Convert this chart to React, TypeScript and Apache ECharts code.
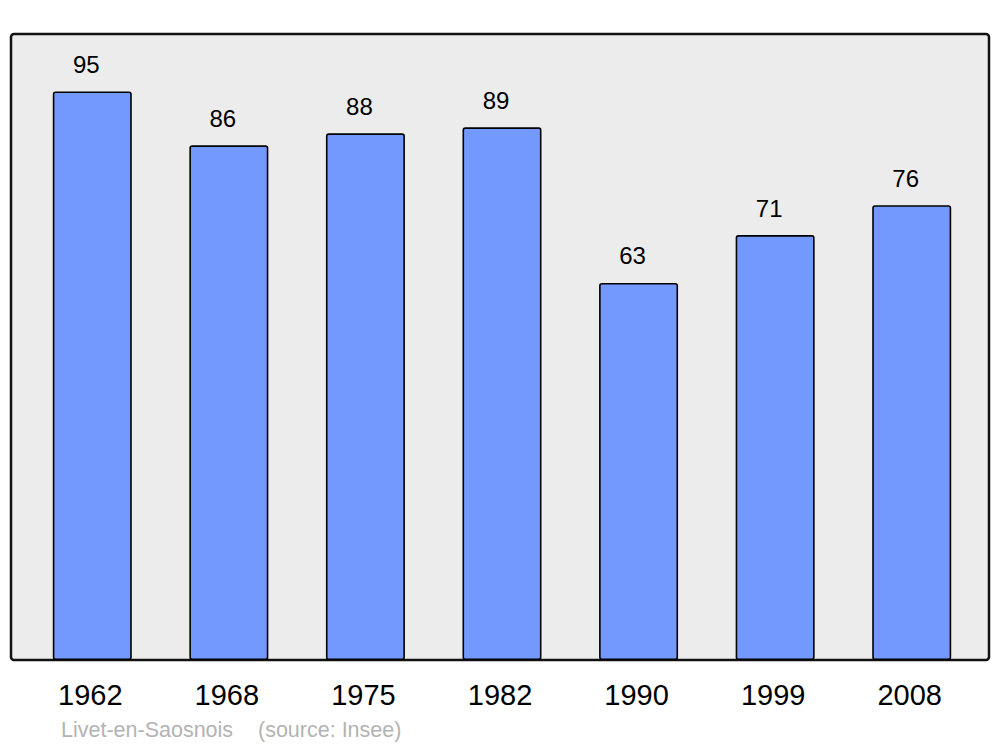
import React, { useEffect, useRef } from "react";
import * as echarts from "echarts";

const years = ["1962", "1968", "1975", "1982", "1990", "1999", "2008"];
const population = [95, 86, 88, 89, 63, 71, 76];
const footerPlace = "Livet-en-Saosnois";
const footerSource = "(source: Insee)";

export default function App() {
  const ref = useRef<HTMLDivElement>(null);
  useEffect(() => {
    if (!ref.current) return;
    const chart = echarts.init(ref.current, undefined, { renderer: "svg" });
    chart.setOption({
      animation: false,
      backgroundColor: "#ffffff",
      textStyle: { fontFamily: "Liberation Sans, Arial, sans-serif" },
      graphic: [
        {
          type: "rect",
          z: -10,
          shape: { x: 11, y: 34, width: 978, height: 626, r: 3 },
          style: { fill: "#ececec", stroke: "#111111", lineWidth: 2.5 },
        },
        {
          type: "text",
          x: 61,
          y: 730,
          style: {
            text: footerPlace,
            fill: "#b3b3b3",
            font: "21.5px 'Liberation Sans', Arial, sans-serif",
            textVerticalAlign: "middle",
          },
        },
        {
          type: "text",
          x: 258,
          y: 730,
          style: {
            text: footerSource,
            fill: "#b3b3b3",
            font: "21.5px 'Liberation Sans', Arial, sans-serif",
            textVerticalAlign: "middle",
          },
        },
      ],
      grid: { left: 24, right: 20, top: 34, bottom: 87, containLabel: false },
      xAxis: {
        type: "category",
        data: years,
        axisLine: { show: false },
        axisTick: { show: false },
        axisLabel: {
          color: "#000000",
          fontSize: 29,
          margin: 20,
          padding: [0, 4, 0, 0],
          fontFamily: "Liberation Sans, Arial, sans-serif",
        },
      },
      yAxis: {
        type: "value",
        min: 0,
        max: 104.6,
        show: false,
        splitLine: { show: false },
      },
      series: [
        {
          type: "bar",
          data: population,
          barWidth: 79,
          itemStyle: {
            color: "#7399ff",
            borderColor: "#000000",
            borderWidth: 1.6,
            borderRadius: 2,
          },
          label: {
            show: true,
            position: "top",
            distance: 15,
            offset: [-6, 0],
            color: "#000000",
            fontSize: 24,
            fontFamily: "Liberation Sans, Arial, sans-serif",
          },
        },
      ],
    });
    return () => chart.dispose();
  }, []);
  return (
    <div
      ref={ref}
      style={{ position: "fixed", left: 0, top: 0, width: 1000, height: 747 }}
    />
  );
}
